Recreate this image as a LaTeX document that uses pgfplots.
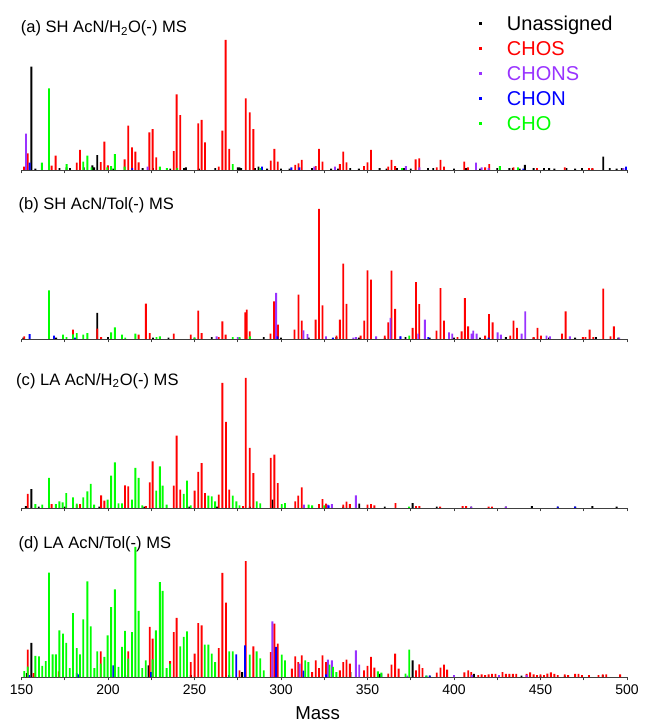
\documentclass[border=0pt]{standalone}
\usepackage{fontspec}
\setmainfont{Liberation Sans}
\usepackage{pgfplots}
\pgfplotsset{compat=1.18}
\definecolor{cunas}{RGB}{0,0,0}
\definecolor{cchos}{RGB}{255,0,0}
\definecolor{cchons}{RGB}{153,51,255}
\definecolor{cchon}{RGB}{0,0,255}
\definecolor{ccho}{RGB}{0,255,0}
\tikzset{plab/.style={anchor=base west, inner sep=0pt, font=\fontsize{12.4}{14}\selectfont}}
\pgfplotsset{
  panel/.style={scale only axis, width=454.125pt, height=109.2pt,
    xmin=150, xmax=500, ymin=0, ymax=112, anchor=south west,
    axis x line*=bottom, axis y line=none,
    x axis line style={black!75, line width=0.6pt},
    xtick={150,200,...,500}, minor xtick={175,225,...,475},
    tick align=outside, major tick length=2.5pt, minor tick length=2.5pt,
    every tick/.style={black!75, line width=0.6pt},
    every minor tick/.style={black!75, line width=0.6pt},
    clip=false, /pgf/number format/assume math mode=true,
    xticklabel style={font=\fontsize{10.5}{12}\selectfont}},
  nolab/.style={xticklabels={}},
  stick/.style={ybar, bar width=1.4pt, bar shift=0pt, draw=none, no markers},
  unas/.style={stick, fill=cunas, legend image code/.code={\fill[cunas] (0pt,-1.2pt) rectangle (2.4pt,1.2pt); \path[draw=none,fill=none] (0pt,0pt) rectangle (20.75pt,0pt);}},
  chos/.style={stick, fill=cchos, legend image code/.code={\fill[cchos] (0pt,-1.2pt) rectangle (2.4pt,1.2pt); \path[draw=none,fill=none] (0pt,0pt) rectangle (20.75pt,0pt);}},
  chons/.style={stick, fill=cchons, legend image code/.code={\fill[cchons] (0pt,-1.2pt) rectangle (2.4pt,1.2pt); \path[draw=none,fill=none] (0pt,0pt) rectangle (20.75pt,0pt);}},
  chon/.style={stick, fill=cchon, legend image code/.code={\fill[cchon] (0pt,-1.2pt) rectangle (2.4pt,1.2pt); \path[draw=none,fill=none] (0pt,0pt) rectangle (20.75pt,0pt);}},
  cho/.style={stick, fill=ccho, legend image code/.code={\fill[ccho] (0pt,-1.2pt) rectangle (2.4pt,1.2pt); \path[draw=none,fill=none] (0pt,0pt) rectangle (20.75pt,0pt);}},
}
\begin{document}
\begin{tikzpicture}
% ---------------- (a) ----------------
\begin{axis}[panel, nolab, at={(0pt,380.25pt)},
  legend style={draw=none, fill=none, at={(rel axis cs:0.749,1.095)}, anchor=north west,
    font=\fontsize{15}{18}\selectfont, row sep=4pt,
    nodes={inner sep=0pt, text height=12.6pt, text depth=2.15pt}},
  legend cell align=left]
\addplot[unas] coordinates {(155.7,79.5)(193.8,11.5)(441,4)(486.3,10.3)
 (158,1)(172,1.5)(176,2)(178,1.5)(186,2)(191,3.5)(192,2)(200,1.5)(203,1)(220,1.5)(226,1.5)(236,1)(244,1.5)(245,2)(252.5,1)(262,1.5)(275,2)(276,2)(277,1.5)(285,1.5)(287,2.5)(289,1.5)(292,1)(300,1)(305,1)(318,1.5)(329,1)(333,1)(340,1.5)(345,1)(357,1.5)(361,1)(367,1.5)(371,1.5)(375,1)(385,1.5)(388,1.5)(400,1)(407,1.5)(415,1)(425,1.5)(432,1.5)(434,1.5)(438,1)(446,1.5)(452,1.5)(455,1.5)(458,1)(465,1.5)(470,1)(474,1.5)(480,1)(490,1.5)(494,1)(497,1.5)};
\addlegendentry[text=cunas]{Unassigned}
\addplot[chos] coordinates {(151.5,2.5)(153.6,12.8)(167.4,3.3)(169.7,11)(181.9,5.6)(183.8,15.4)(195.8,6)(197.9,21.8)(199.9,3.5)(209.6,8.2)(211.7,34.1)(213.9,17.4)(215.8,14.1)(217.7,5.9)(223.9,29)(225.8,31.5)(227.9,9.7)(238,14.6)(239.7,58.2)(241.8,42.3)(252.2,35.9)(254.1,38.5)(256.1,21.3)(264,2.6)(266.1,30.3)(268,100)(270.1,16.2)(279.6,55.1)(281.9,44.4)(284,31.5)(294.1,7.2)(296.2,16.2)(298.1,6.4)(308.2,4)(310.1,5)(312,7.7)(320.1,3)(322,16.2)(324,6.4)(334,4.6)(336,14.1)(337.9,5.9)(348,3)(350,5.9)(352,15.4)(362,2.5)(363.9,7.7)(366,3)(377.8,8.2)(379.9,9)(390,2)(392.2,7.7)(394.2,2.5)(405.9,6.4)(408,2)(418,2)(420.4,4.6)(434.4,2)(448,1.5)(464,2)(478,1.5)(480,1.5)};
\addlegendentry[text=cchos]{CHOS}
\addplot[chons] coordinates {(152.6,28)(222.9,2.6)(319.3,2.6)(331.2,2.6)(372.2,3)(380,2)(412.7,5.6)(416,2)(420,1.5)(498,1.5)};
\addlegendentry[text=cchons]{CHONS}
\addplot[chon] coordinates {(154.7,5.6)(214,1.5)(289,2.6)(306,2)(310.6,2)(440,1)(499.4,2.6)};
\addlegendentry[text=cchon]{CHON}
\addplot[cho] coordinates {(161.8,5.6)(165.9,62.8)(176.1,4.6)(185.7,6.4)(188.1,11)(190.5,2)(199.6,2)(201.8,3)(204,12.3)(209.6,2.5)(230,2.6)(234,1.5)(240,1.5)(272.1,4.6)(288,1.5)(370,1.5)(426.5,3)(437,2)};
\addlegendentry[text=ccho]{CHO}
\node[plab] at (axis cs:149.5,105.6) {(a) SH AcN/H\textsubscript{2}O(-) MS};
\end{axis}
% ---------------- (b) ----------------
\begin{axis}[panel, nolab, at={(0pt,253.5pt)}]
\addplot[unas] coordinates {(193.8,20)(151,1)(170,1)(200,1.5)(226,1)(235,1)(250,1)(260,1.5)(276,1)(290,1.5)(300,1)(316,1)(332,1.5)(345,1)(360,1)(372,1.5)(386,1)(400,1)(415,1)(430,1.5)(446,1)(455,1)(470,1)(482,1.5)(495,1)};
\addplot[chos] coordinates {(151.6,2)(179.8,7.2)(193.8,8)(196,1.5)(217.7,3.3)(221.9,27.2)(224.1,4.6)(238,4.1)(247.8,3.3)(252.2,21.8)(254.1,4.6)(264,1.5)(266.1,13.6)(268,3.3)(279.4,20.5)(280.2,22.6)(281.9,5.9)(293.9,4.1)(296,29)(298.2,11)(307.8,7.2)(310.1,34.1)(312,14.1)(320,14.9)(322,100)(324,25.9)(332.1,2.6)(334,14.9)(336,58)(337.9,27)(346,2.6)(348.1,14.1)(350,52.8)(352,45.6)(360,2.6)(362,12.8)(363.9,52.6)(366,23.1)(376.1,8.5)(378,43.8)(379.9,26.9)(389.9,6.4)(392.2,39.2)(394.2,14.1)(402,1.5)(404.4,5.9)(406.3,31.5)(408.2,9.7)(418,2.6)(420.2,19.2)(422.3,12.8)(432.5,2.6)(434.4,14.1)(436.4,8.5)(446,1.5)(448.3,8.5)(450.3,2.6)(462.4,4.1)(464.5,21.3)(474.5,1.5)(476,1.5)(478.4,7.2)(480.5,1.5)(486.3,38.7)(490.5,2)(492.4,9.7)};
\addplot[chons] coordinates {(262.8,2)(275,1.5)(297.2,35.4)(313,6.7)(315.3,3.8)(326,2)(341.8,1)(343.3,1.5)(355,2)(363.3,16.2)(369,2)(379.3,4.1)(383.2,14.9)(397.1,5.1)(399,4.1)(410.2,4.1)(411.1,6.4)(413.1,4.1)(425.2,5.1)(427.1,3.3)(439.1,4.1)(441.2,21.3)(453.5,2.6)(455.5,2)(467,2)(495.5,1)};
\addplot[chon] coordinates {(154.7,3.8)(168.8,2.6)(181,1)(298,2)(330,1)(369.1,2)(385.1,1.5)(420,1)};
\addplot[cho] coordinates {(165.9,37.4)(174,3.3)(176,1.5)(179.8,3.5)(181.9,4.6)(185.7,3.3)(188.1,4.6)(201.8,5.1)(204,9)(208.1,3.3)(210,1)(215.8,4.1)(228,1.5)(230,2)(250,1)(272.1,1.5)(276,1.5)(282,2)(374.1,2.6)};
\node[plab] at (axis cs:148.2,99.8) {(b) SH AcN/Tol(-) MS};
\end{axis}
% ---------------- (c) ----------------
\begin{axis}[panel, nolab, at={(0pt,126.75pt)}]
\addplot[unas] coordinates {(155.7,14.6)(152.5,1.5)(160,1)(175,1)(195,1)(221,1)(247,1)(263,1)(282,1)(295.1,6.4)(336,1)(345.2,3.3)(360,1)(376.1,3.8)(390,1)(410,1)(430,1)(445,1.5)(460,1)(470,1)(480,1.5)(494,1)};
\addplot[chos] coordinates {(153.6,10.8)(167.4,3)(181.9,2.5)(183.8,3)(196,9.7)(197.9,5.6)(209.8,17.4)(211.7,16.7)(222,1.5)(224.1,19.7)(225.8,35.9)(238,17.2)(239.7,55.6)(241.8,14.1)(250.1,13.3)(252.2,27.7)(254.1,34.6)(256.1,11.5)(264,10.3)(266.1,96.2)(268.2,66.2)(270.1,14.1)(278,1.5)(279.6,100)(281.9,46.2)(284,26.9)(294.1,38.5)(296.2,41)(298.1,19.2)(308.2,5)(310,9.5)(312,15.9)(322,3)(324,6.9)(326,3.3)(336,2.5)(337.9,4.9)(339.8,3)(350,2.5)(352,3)(354,2)(366.2,3.8)(378,1.5)(380,1.5)(392,1)(405,1.5)(407,1.5)(420,1)(422,1)};
\addplot[chons] coordinates {(313.3,2.5)(327,2.5)(329.4,3)(343.3,9.7)(410,1)(430,1)};
\addplot[chon] coordinates {(327.5,2)(460,1)(470,1)};
\addplot[cho] coordinates {(158,3)(162,2.5)(165.9,23.1)(169.9,3)(171.9,5.1)(173.8,4.4)(175.9,11.5)(179.8,8.2)(181.9,3.3)(185.7,8.2)(188.1,12.8)(190,18.5)(192,2.5)(199.8,6.4)(201.8,24.9)(204,35.1)(206.1,3.6)(208.1,3.6)(213.9,6.4)(215.8,30.8)(217.7,23.1)(219.8,2)(227.9,13.3)(230,32)(231.6,17.2)(233.9,2.5)(243.8,10.8)(245.7,21)(247.8,2)(258,9.5)(260,9)(261.9,5.1)(272.1,9.5)(274.2,5.1)(276,2)(286,5.1)(288,3.6)(300.4,3)(302.3,3.8)(316,2.5)(318,2)(325,2)(374,1)};
\node[plab] at (axis cs:146.8,94.6) {(c) LA AcN/H\textsubscript{2}O(-) MS};
\end{axis}
% ---------------- (d) ----------------
\begin{axis}[panel, at={(0pt,0pt)}, xlabel={Mass},
  xlabel style={font=\fontsize{14}{16}\selectfont, at={(rel axis cs:0.489,0)}, anchor=center, yshift=-27pt}]
\addplot[unas] coordinates {(155.7,26.2)(153,3)(223.5,9)(247.9,1.5)(277.5,3.8)(340.1,3.8)(357.3,2.5)(376.1,12.8)(386,1)(411.5,2.5)(439,1)(450,1)(464,1)(474,1.5)(486,1.5)};
\addplot[chos] coordinates {(153.6,21)(157,3)(171.5,4.4)(195.8,19.7)(211.7,19.7)(224.1,38.5)(225.8,29.5)(235.9,12.3)(238,34.6)(239.7,45.4)(247.8,11.5)(250.1,17.9)(252.2,41.5)(254.1,39.7)(264,22.3)(266.1,80)(268.2,57.2)(276,5.1)(279.6,89.2)(284,23.6)(294.1,19.2)(296.2,41)(298.1,25.6)(306.3,6.4)(308.2,15.9)(310,11.5)(312,16.7)(318,3.8)(320.1,12.8)(322,6.9)(324,16.7)(326,11.5)(334,5.1)(336,11.5)(337.9,13.3)(339.8,10.3)(348,5.1)(350,8.5)(352,15.4)(354,7.2)(362,2.6)(363.9,9.5)(366,17.9)(368,6.4)(378,5.1)(379.9,9.7)(381.8,6.9)(390,3.3)(392.2,7.2)(394.2,9.5)(396,5.6)(406,3.6)(408.2,5.1)(410,3.8)(414,1.5)(416,2.1)(418,1.5)(420,2.1)(422,2.5)(424,2.5)(428,3.8)(430,2.5)(432,2.5)(434,2.5)(436,2.5)(442,2.5)(444,3.6)(446,2.1)(448,1.5)(450,2.1)(452,1.5)(454,2.6)(456,3.6)(458,2.5)(460,1.5)(464,2)(466,1.5)(470,2.5)(472,2.5)(474,1.5)(478,1.5)(483.5,1.5)(486,2.1)(488,2.1)(496,2.1)};
\addplot[chons] coordinates {(295,42.8)(310.8,10.3)(327.1,13.3)(329.4,12.8)(343.3,20.5)(345.2,9.5)(358,2.6)(373,1)(400,1.5)(410.5,1.5)(426,1.5)(442,1.5)};
\addplot[chon] coordinates {(154.5,1.5)(181.9,3)(183,2)(203,9)(210,1.5)(224.9,3.8)(270,1.5)(274.1,17.4)(279.2,24.4)(297.2,23.1)(313,5)(326,2)(384,1)(386,1)};
\addplot[cho] coordinates {(151.6,4.6)(153.6,8)(158,16.2)(160.1,15.9)(162,8.5)(164,12.3)(165.9,80.3)(168,17.4)(169.9,17.4)(171.9,35.9)(174,33.3)(175.9,26.2)(177.9,6.9)(179.8,49.2)(181.9,22.3)(183.8,17.4)(185.7,44.4)(188.1,73.6)(190,39)(192.1,6.9)(193.8,19.7)(195.8,10.3)(197.9,15.4)(199.8,32)(201.8,53.8)(204,67.4)(206.1,7.7)(208.1,23.1)(209.8,35.4)(211.7,14.1)(213.9,34.6)(215.8,100)(217.7,50.8)(219.8,6.9)(221.8,12.8)(225.8,13.6)(227.7,35.9)(230,73)(231.6,66.2)(233.9,6.9)(235.8,10.3)(241.8,23.6)(243.8,30.8)(245.7,35.1)(255.9,24.9)(258,24.9)(260,17.9)(261.9,11.5)(270.1,19.7)(272.1,19.7)(281.9,17.2)(285.9,19.7)(288,14.4)(290,5.1)(300.4,17.2)(302.3,12.8)(314,12.8)(315.8,11.5)(328,9.5)(330,7.7)(332,3.8)(356,4.4)(358,3.3)(372,2.6)(374.1,21)(384,1)};
\node[plab] at (axis cs:148.2,98.5) {(d) LA AcN/Tol(-) MS};
\end{axis}
\pgfresetboundingbox
\useasboundingbox (-16.125pt,-33.75pt) rectangle (469.125pt,507.75pt);
\end{tikzpicture}
\end{document}
